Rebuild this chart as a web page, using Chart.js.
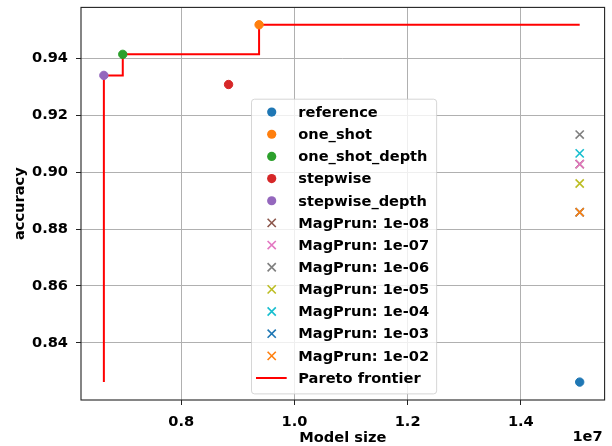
<!DOCTYPE html>
<html><head><meta charset="utf-8">
<script src="https://cdn.jsdelivr.net/npm/chart.js@4.4.0/dist/chart.umd.min.js"></script>
<style>html,body{margin:0;padding:0;background:#fff;} canvas{display:block}</style>
</head><body>
<canvas id="c" width="612" height="446"></canvas>
<script>
// ---- data ----
const methodNames = ['reference', 'one_shot', 'one_shot_depth', 'stepwise', 'stepwise_depth'];
const methodSize  = [15.04e6, 9.376e6, 6.968e6, 8.837e6, 6.634e6];
const methodAcc   = [0.8262, 0.9518, 0.9414, 0.9308, 0.9340];

const magNames = ['MagPrun: 1e-08', 'MagPrun: 1e-07', 'MagPrun: 1e-06', 'MagPrun: 1e-05',
                  'MagPrun: 1e-04', 'MagPrun: 1e-03', 'MagPrun: 1e-02'];
const magSize  = [15.04e6, 15.04e6, 15.04e6, 15.04e6, 15.04e6, 15.04e6, 15.04e6];
const magAcc   = [0.9028, 0.9028, 0.9132, 0.8960, 0.9066, 0.8859, 0.8859];

const frontierName = 'Pareto frontier';
const frontierSize = [6.634e6, 6.634e6, 6.968e6, 9.376e6, 15.04e6];
const frontierAcc  = [0.8262, 0.9340, 0.9414, 0.9518, 0.9518];

const xTicks = [0.8e7, 1.0e7, 1.2e7, 1.4e7];
const yTicks = [0.84, 0.86, 0.88, 0.90, 0.92, 0.94];
const xRange = [6.23e6, 15.48e6];
const yRange = [0.8199, 0.9579];

// ---- styles ----
const methodColors = ['#1f77b4', '#ff7f0e', '#2ca02c', '#d62728', '#9467bd'];
const magColors = ['#8c564b', '#e377c2', '#7f7f7f', '#bcbd22', '#17becf', '#1f77b4', '#ff7f0e'];
const FONT = 'DejaVu Sans';
const FS = 14.6;

const datasets = [];
methodNames.forEach((n, i) => datasets.push({
  label: n, kind: 'circle',
  data: [{x: methodSize[i], y: methodAcc[i]}],
  backgroundColor: methodColors[i], borderColor: methodColors[i],
  pointStyle: 'circle', pointRadius: 4.2, borderWidth: 1
}));
magNames.forEach((n, i) => datasets.push({
  label: n, kind: 'cross',
  data: [{x: magSize[i], y: magAcc[i]}],
  backgroundColor: magColors[i], borderColor: magColors[i],
  pointStyle: 'crossRot', pointRadius: 5.8, borderWidth: 1.6
}));
datasets.push({
  label: frontierName, kind: 'line', type: 'line',
  data: frontierSize.map((x, i) => ({x, y: frontierAcc[i]})),
  borderColor: '#ff0000', backgroundColor: '#ff0000', borderWidth: 2,
  pointRadius: 0, stepped: 'before', showLine: true, fill: false
});
// later scatter series on top of earlier ones; frontier line beneath the points
datasets.forEach((d, i) => { d.order = d.kind === 'line' ? 100 : -i; });

const frame = {
  id: 'frame',
  afterDatasetsDraw(chart) {
    const {ctx, chartArea: a} = chart;
    ctx.save();
    ctx.strokeStyle = '#222';
    ctx.lineWidth = 1.1;
    ctx.strokeRect(a.left, a.top, a.right - a.left, a.bottom - a.top);
    ctx.restore();
  },
  afterDraw(chart) {
    const {ctx, chartArea: a} = chart;
    ctx.save();
    // offset text
    ctx.font = `bold ${FS}px "${FONT}"`;
    ctx.fillStyle = '#000';
    ctx.textAlign = 'right';
    ctx.textBaseline = 'middle';
    ctx.fillText('1e7', a.right - 2, 437);
    // legend
    const ds = chart.data.datasets;
    const left = a.left + 170, top = a.top + 91.3;
    const rowH = 22.16;
    let maxW = 0;
    ds.forEach(d => { maxW = Math.max(maxW, ctx.measureText(d.label).width); });
    const textX = left + 47.3;
    const w = textX - left + maxW + 7;
    const h = rowH * ds.length + 6.6;
    ctx.beginPath();
    ctx.roundRect(left + 0.5, top + 0.5, w, h, 3);
    ctx.fillStyle = 'rgba(255,255,255,0.8)';
    ctx.fill();
    ctx.strokeStyle = 'rgba(204,204,204,0.8)';
    ctx.lineWidth = 1;
    ctx.stroke();
    ds.forEach((d, i) => {
      const cy = top + 13.4 + i * rowH;
      const mx = left + 20.7;
      ctx.fillStyle = d.borderColor;
      ctx.strokeStyle = d.borderColor;
      if (d.kind === 'circle') {
        ctx.beginPath(); ctx.arc(mx, cy, 4.6, 0, Math.PI * 2); ctx.fill();
      } else if (d.kind === 'cross') {
        const r = 4.1;
        ctx.lineWidth = 1.6;
        ctx.beginPath();
        ctx.moveTo(mx - r, cy - r); ctx.lineTo(mx + r, cy + r);
        ctx.moveTo(mx - r, cy + r); ctx.lineTo(mx + r, cy - r);
        ctx.stroke();
      } else {
        ctx.lineWidth = 2;
        ctx.beginPath(); ctx.moveTo(left + 5, cy); ctx.lineTo(left + 35.7, cy); ctx.stroke();
      }
      ctx.fillStyle = '#000';
      ctx.textAlign = 'left';
      ctx.textBaseline = 'middle';
      ctx.fillText(d.label, textX, cy + 1);
    });
    ctx.restore();
  }
};

new Chart(document.getElementById('c'), {
  type: 'scatter',
  data: { datasets },
  options: {
    responsive: false, animation: false, devicePixelRatio: 1,
    layout: { padding: { left: 0, right: 5, top: 7, bottom: 0 } },
    plugins: { legend: { display: false }, tooltip: { enabled: false } },
    scales: {
      x: {
        type: 'linear', min: xRange[0], max: xRange[1],
        afterFit(s) { s.height = 46; s.paddingLeft = 0; s.paddingRight = 0; },
        afterBuildTicks(s) { s.ticks = xTicks.map(v => ({value: v})); },
        grid: { color: '#b0b0b0', lineWidth: 1, tickColor: '#222', tickLength: 5, drawTicks: true },
        border: { display: false },
        ticks: { color: '#000', font: { family: FONT, size: FS, weight: 'bold' }, padding: 8,
                 maxRotation: 0, callback: v => (v / 1e7).toFixed(1) },
        title: { display: true, text: 'Model size', color: '#000',
                 font: { family: FONT, size: FS, weight: 'bold' }, padding: { top: 0, bottom: -1 } }
      },
      y: {
        type: 'linear', min: yRange[0], max: yRange[1],
        afterFit(s) { s.width = 81; s.paddingTop = 0; s.paddingBottom = 0; },
        afterBuildTicks(s) { s.ticks = yTicks.map(v => ({value: v})); },
        grid: { color: '#b0b0b0', lineWidth: 1, tickColor: '#222', tickLength: 5, drawTicks: true },
        border: { display: false },
        ticks: { color: '#000', font: { family: FONT, size: FS, weight: 'bold' }, padding: 8,
                 callback: v => v.toFixed(2) },
        title: { display: true, text: 'accuracy', color: '#000',
                 font: { family: FONT, size: FS, weight: 'bold' }, padding: { top: 11.5, bottom: 0 } }
      }
    }
  },
  plugins: [frame]
});
</script>
</body></html>
